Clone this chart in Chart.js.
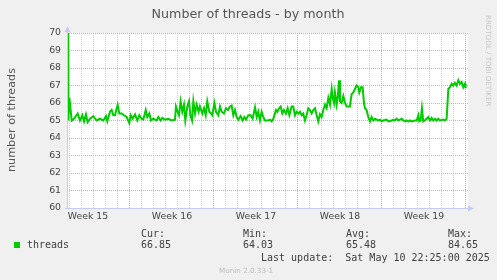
<!DOCTYPE html>
<html>
<head>
  <style>
    body {
      margin: 0;
      background-color: #f0f0f0;
    }
    #myChart {
      display: block;
    }
  </style>
  <script src="https://cdn.jsdelivr.net/npm/chart.js"></script>
</head>
<body>
  <canvas id="myChart" width="497" height="280"></canvas>
  <script>
    // time in days since Monday of week 15, threads
    const days = [
      1.75, 1.86, 1.95, 2.14, 2.33, 2.64, 2.83, 3.03, 3.17, 3.33, 3.47, 3.67, 3.94, 4.22, 4.5, 4.78,
      5.0, 5.11, 5.33, 5.47, 5.61, 5.75, 5.97, 6.11, 6.31, 6.5, 6.72, 6.94, 7.06, 7.22, 7.42, 7.61,
      7.78, 7.97, 8.11, 8.31, 8.44, 8.61, 8.75, 8.94, 9.22, 9.36, 9.56, 9.69, 9.92, 10.19, 10.47, 10.75,
      10.83, 10.97, 11.08, 11.22, 11.36, 11.5, 11.61, 11.78, 11.92, 12.03, 12.17, 12.28, 12.42, 12.56,
      12.72, 12.83, 13.03, 13.17, 13.31, 13.44, 13.61, 13.75, 13.86, 14.03, 14.17, 14.36, 14.5, 14.64,
      14.83, 15.0, 15.17, 15.33, 15.47, 15.61, 15.75, 15.89, 16.03, 16.22, 16.39, 16.53, 16.67, 16.86,
      17.06, 17.22, 17.42, 17.56, 17.69, 17.83, 17.97, 18.11, 18.25, 18.53, 18.67, 18.81, 18.94, 19.17,
      19.28, 19.42, 19.56, 19.69, 19.83, 20.0, 20.14, 20.28, 20.47, 20.61, 20.75, 20.89, 21.03, 21.17,
      21.31, 21.44, 21.58, 21.72, 21.86, 22.0, 22.14, 22.28, 22.42, 22.56, 22.69, 22.83, 22.97, 23.11,
      23.25, 23.39, 23.53, 23.67, 23.81, 23.89, 24.0, 24.08, 24.22, 24.31, 24.42, 24.5, 24.64, 24.78,
      24.92, 25.06, 25.33, 25.47, 25.61, 25.75, 25.89, 26.03, 26.11, 26.25, 26.39, 26.5, 26.58, 26.72,
      26.86, 27.0, 27.14, 27.28, 27.42, 27.56, 27.69, 27.83, 27.97, 28.11, 28.39, 28.53, 28.81, 28.94,
      29.08, 29.22, 29.36, 29.5, 29.64, 29.78, 29.92, 30.06, 30.19, 30.33, 30.47, 30.75, 30.89, 31.03,
      31.11, 31.22, 31.33, 31.44, 31.58, 31.72, 31.86, 32.0, 32.14, 32.28, 32.42, 32.56, 32.69, 32.83,
      33.11, 33.25, 33.39, 33.53, 33.67, 33.81, 33.94, 34.08, 34.22, 34.36, 34.5, 34.64, 34.78, 34.92,
      34.97
    ];
    const threads = [
      84.65, 65.0, 66.3, 65.0, 65.1, 65.4, 65.0, 65.3, 64.95, 65.35, 64.9, 65.1, 65.25, 65.0, 65.1, 65.0,
      65.25, 64.95, 65.5, 65.6, 65.3, 65.3, 65.9, 65.4, 65.4, 65.3, 65.2, 64.85, 65.3, 65.1, 65.35, 65.0,
      65.3, 65.1, 65.05, 65.6, 65.2, 65.4, 65.0, 65.1, 65.0, 65.2, 65.0, 65.15, 65.05, 65.1, 65.0, 65.05,
      65.8, 65.5, 65.3, 66.1, 65.5, 65.9, 65.0, 65.8, 66.1, 65.3, 65.0, 66.1, 65.4, 65.9,
      65.5, 65.8, 65.4, 65.7, 65.3, 66.1, 65.5, 65.4, 65.3, 66.0, 65.5, 65.3, 65.8, 65.5,
      65.4, 65.7, 65.6, 65.8, 65.85, 65.3, 65.6, 65.2, 65.05, 65.25, 65.0, 65.2, 65.05, 65.3,
      65.3, 65.1, 65.75, 65.2, 65.5, 65.0, 65.5, 65.2, 65.0, 65.0, 65.05, 64.95, 65.1, 65.6,
      65.5, 65.7, 65.8, 65.4, 65.6, 65.4, 65.7, 65.3, 65.8, 65.8, 65.3, 65.5, 65.4, 65.5,
      65.3, 65.4, 65.0, 65.3, 65.7, 65.6, 65.4, 65.6, 65.7, 65.3, 64.95, 65.35, 65.2, 65.6,
      65.9, 65.7, 66.3, 65.9, 66.8, 66.3, 66.0, 66.6, 65.9, 66.3, 67.3, 66.1, 66.0, 66.4,
      66.0, 65.8, 65.8, 66.5, 66.6, 66.8, 67.0, 66.9, 66.6, 66.9, 66.9, 66.0, 65.7, 65.6,
      65.2, 64.95, 65.2, 65.0, 65.1, 65.05, 65.0, 65.05, 64.95, 65.0, 65.05, 64.95, 65.0, 65.05,
      65.0, 65.1, 65.0, 65.05, 65.1, 65.0, 64.95, 65.0, 64.95, 65.0, 64.95, 65.0, 65.0, 65.3,
      64.95, 65.0, 65.7, 64.95, 65.0, 65.1, 65.2, 65.0, 65.15, 65.0, 65.1, 65.0, 65.1, 65.0,
      65.05, 65.0, 65.1, 66.8, 66.9, 67.1, 67.0, 67.15, 67.0, 67.3, 67.1, 67.2, 66.9, 67.1,
      66.85
    ];
    const weekLabels = ['Week 15', 'Week 16', 'Week 17', 'Week 18', 'Week 19'];
    const statNames = ['Cur:', 'Min:', 'Avg:', 'Max:'];
    const statValues = ['66.85', '64.03', '65.48', '84.65'];
    const seriesName = 'threads';
    const lastUpdate = 'Last update:  Sat May 10 22:25:00 2025';

    const RED_GRID = '#f0a0a0';
    const GRAY_GRID = '#d0d0d0';
    const AXIS = '#c4ccf4';

    // munin style texts, axis arrows and legend
    const muninDecor = {
      id: 'muninDecor',
      beforeDraw(chart) {
        const { ctx, chartArea: a } = chart;
        ctx.save();
        ctx.fillStyle = '#ffffff';
        ctx.fillRect(a.left, a.top, a.right - a.left, a.bottom - a.top);
        ctx.restore();
      },
      afterDraw(chart) {
        const { ctx, chartArea: a } = chart;
        ctx.save();

        // axes with arrows
        ctx.strokeStyle = AXIS;
        ctx.fillStyle = AXIS;
        ctx.lineWidth = 1;
        ctx.beginPath();
        ctx.moveTo(a.left + 0.5, a.bottom + 0.5);
        ctx.lineTo(a.left + 0.5, a.top - 2);
        ctx.moveTo(a.left - 2, a.bottom + 0.5);
        ctx.lineTo(a.right + 2, a.bottom + 0.5);
        ctx.stroke();
        ctx.beginPath();
        ctx.moveTo(a.left + 0.5, a.top - 7);
        ctx.lineTo(a.left - 2.5, a.top - 1);
        ctx.lineTo(a.left + 3.5, a.top - 1);
        ctx.fill();
        ctx.beginPath();
        ctx.moveTo(a.right + 6, a.bottom + 0.5);
        ctx.lineTo(a.right, a.bottom - 2.5);
        ctx.lineTo(a.right, a.bottom + 3.5);
        ctx.fill();

        // title
        ctx.fillStyle = '#555555';
        ctx.font = '12.7px "DejaVu Sans"';
        ctx.textAlign = 'center';
        ctx.textBaseline = 'alphabetic';
        ctx.fillText('Number of threads - by month', 248, 18);

        // y title
        ctx.save();
        ctx.translate(15, 120);
        ctx.rotate(-Math.PI / 2);
        ctx.font = '11.2px "DejaVu Sans"';
        ctx.fillText('number of threads', 0, 0);
        ctx.restore();

        // watermark
        ctx.save();
        ctx.translate(486, 15);
        ctx.rotate(Math.PI / 2);
        ctx.fillStyle = '#c8c8c8';
        ctx.font = '7.1px "DejaVu Sans"';
        ctx.textAlign = 'left';
        ctx.fillText('RRDTOOL / TOBI OETIKER', 0, 0);
        ctx.restore();

        // legend
        ctx.fillStyle = '#00cc00';
        ctx.fillRect(14, 242, 6, 6);
        ctx.fillStyle = '#404040';
        ctx.font = '10px "DejaVu Sans Mono"';
        ctx.textAlign = 'left';
        ctx.fillText(seriesName, 27, 248);
        const cols = [141, 243, 346, 448];
        statNames.forEach((n, i) => {
          ctx.fillText(n, cols[i], 236.5);
          ctx.fillText(statValues[i], cols[i], 248);
        });
        ctx.fillText(lastUpdate, 261, 261);

        ctx.fillStyle = '#bbbbbb';
        ctx.font = '7.2px "DejaVu Sans"';
        ctx.fillText('Munin 2.0.33-1', 219, 272.5);
        ctx.restore();
      }
    };

    const ctx = document.getElementById('myChart').getContext('2d');
    const myChart = new Chart(ctx, {
      type: 'line',
      data: {
        datasets: [{
          label: seriesName,
          data: days.map((d, i) => ({ x: d, y: threads[i] })),
          borderColor: '#00cc00',
          borderWidth: 2,
          pointRadius: 0,
          tension: 0,
          fill: false
        }]
      },
      options: {
        responsive: false,
        animation: false,
        layout: { padding: { left: 0, top: 33, right: 29, bottom: 0 } },
        plugins: {
          legend: { display: false },
          tooltip: { enabled: false }
        },
        scales: {
          x: {
            type: 'linear',
            min: 1.75,
            max: 35.17,
            afterBuildTicks: s => {
              const t = [];
              for (let d = 2; d <= 35; d++) t.push({ value: d });
              weekLabels.forEach((w, i) => t.push({ value: 3.5 + 7 * i }));
              t.sort((p, q) => p.value - q.value);
              s.ticks = t;
            },
            afterFit: s => { s.height = 72; },
            ticks: {
              autoSkip: false,
              maxRotation: 0,
              padding: 3,
              color: '#444444',
              font: { family: 'DejaVu Sans', size: 9.3 },
              callback: v => (v % 1 !== 0 ? weekLabels[Math.floor(v / 7)] : '')
            },
            grid: {
              drawTicks: false,
              color: c => {
                const v = c.tick.value;
                if (v % 1 !== 0) return 'rgba(0,0,0,0)';
                return v % 7 === 0 ? RED_GRID : GRAY_GRID;
              }
            },
            border: { display: false, dash: [1, 1] }
          },
          y: {
            min: 60,
            max: 70,
            afterBuildTicks: s => {
              const t = [];
              for (let v = 60; v <= 70; v += 0.5) t.push({ value: v });
              s.ticks = t;
            },
            afterFit: s => { s.width = 67; },
            ticks: {
              padding: 6,
              color: '#444444',
              font: { family: 'DejaVu Sans', size: 9.3 },
              callback: v => (v % 1 === 0 ? String(v) : '')
            },
            grid: {
              drawTicks: false,
              color: c => (c.tick.value % 1 === 0 ? RED_GRID : GRAY_GRID)
            },
            border: { display: false, dash: [1, 1] }
          }
        }
      },
      plugins: [muninDecor]
    });
  </script>
</body>
</html>
